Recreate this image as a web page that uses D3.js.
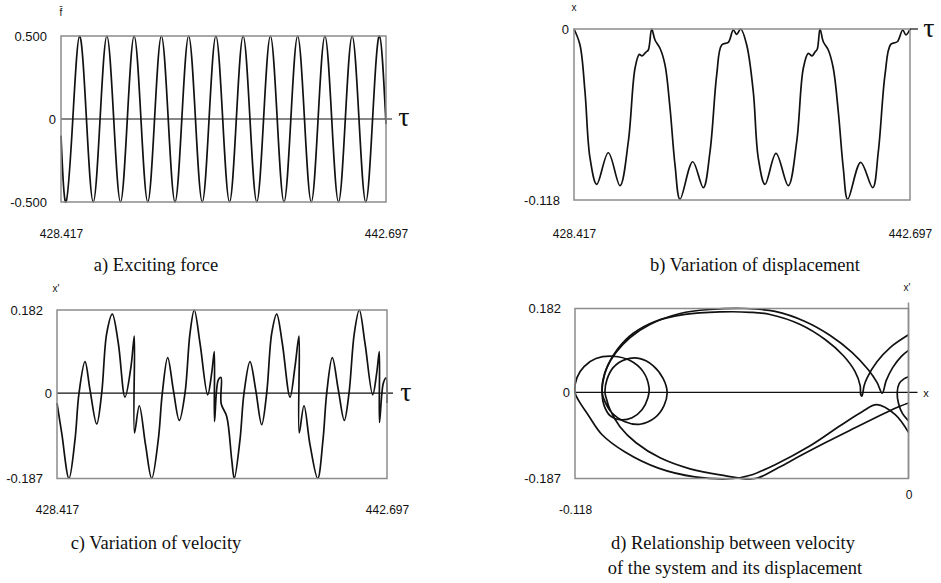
<!DOCTYPE html>
<html>
<head>
<meta charset="utf-8">
<style>
    body { margin: 0; background: #fff; }
    svg { display: block; }
    .frame { fill: none; stroke: #8c8c8c; stroke-width: 1.5; }
    .zero { stroke: #111; stroke-width: 1.2; }
    .curve { fill: none; stroke: #111; stroke-width: 1.7; stroke-linejoin: round; }
    .domain { display: none; }
    .tick text { font-family: 'Liberation Sans', Arial, sans-serif; font-size: 13px; fill: #111; }
    .xlab .tick text { font-size: 12px; }
    .caption { font-family: 'Liberation Serif', 'Times New Roman', Times, 'DejaVu Serif', serif; font-size: 18.5px; fill: #111; text-anchor: middle; }
    .tau { font-family: 'Liberation Serif', 'Times New Roman', Times, 'DejaVu Serif', serif; font-size: 28px; fill: #111; text-anchor: middle; }
    .var { font-family: 'Liberation Sans', Arial, sans-serif; font-size: 10px; fill: #111; text-anchor: middle; }
</style>
</head>
<body>
<svg width="941" height="583"></svg>

<script src="https://d3js.org/d3.v7.min.js"></script>
<script>
    // ---- data ----
    let timeTicks = [428.417, 442.697];
    let timeTickLabels = ["428.417", "442.697"];

    let forceTicks = [-0.5, 0, 0.5];
    let forceTickLabels = ["-0.500", "0", "0.500"];
    let dispTicks = [-0.118, 0];
    let dispTickLabels = ["-0.118", "0"];
    let velTicks = [-0.187, 0, 0.182];
    let velTickLabels = ["-0.187", "0", "0.182"];
    let phaseXTicks = [-0.118, 0];
    let phaseXTickLabels = ["-0.118", "0"];

    // a) exciting force  [tau, f]
    let force = [
        [428.417, -0.10],
        [428.637, -0.5], [428.936, 0], [429.236, 0.5], [429.535, 0],
        [429.834, -0.5], [430.134, 0], [430.433, 0.5], [430.733, 0],
        [431.032, -0.5], [431.331, 0], [431.631, 0.5], [431.930, 0],
        [432.229, -0.5], [432.528, 0], [432.828, 0.5], [433.128, 0],
        [433.427, -0.5], [433.726, 0], [434.026, 0.5], [434.325, 0],
        [434.624, -0.5], [434.923, 0], [435.223, 0.5], [435.522, 0],
        [435.822, -0.5], [436.121, 0], [436.420, 0.5], [436.720, 0],
        [437.019, -0.5], [437.318, 0], [437.618, 0.5], [437.917, 0],
        [438.216, -0.5], [438.516, 0], [438.815, 0.5], [439.115, 0],
        [439.414, -0.5], [439.713, 0], [440.013, 0.5], [440.312, 0],
        [440.611, -0.5], [440.910, 0], [441.210, 0.5], [441.510, 0],
        [441.809, -0.5], [442.108, 0], [442.408, 0.5], [442.697, -0.03]
    ];

    // b) displacement  [tau, x]
    let displacement = [
        [428.417, 0], [428.672, -0.0110], [428.885, -0.0435], [429.097, -0.0890],
        [429.382, -0.1072], [429.875, -0.0854], [430.372, -0.1081], [430.725, -0.0778],
        [431.010, -0.0271], [431.192, -0.0175], [431.307, -0.0186], [431.477, -0.0159],
        [431.575, -0.0145], [431.719, 0], [431.860, -0.0076], [432.072, -0.0133],
        [432.285, -0.0248], [432.497, -0.0545], [432.710, -0.0938], [432.922, -0.1175],
        [433.462, -0.0916], [433.912, -0.1095], [434.197, -0.0847], [434.482, -0.0317],
        [434.694, -0.0110], [434.975, -0.0092], [435.187, -0.0007], [435.332, -0.0037],
        [435.502, 0], [435.757, -0.0110], [436.037, -0.0433], [436.250, -0.0892],
        [436.535, -0.1072], [437.002, -0.0858], [437.525, -0.1081], [437.882, -0.0778],
        [438.162, -0.0271], [438.375, -0.0168], [438.532, -0.0186], [438.660, -0.0159],
        [438.757, -0.0138], [438.872, 0], [439.012, -0.0088], [439.225, -0.0145],
        [439.437, -0.0271], [439.650, -0.0571], [439.862, -0.0961], [440.049, -0.1175],
        [440.601, -0.0920], [441.112, -0.1095], [441.350, -0.0847], [441.634, -0.0317],
        [441.876, -0.0106], [442.157, -0.0088], [442.387, -0.0007], [442.527, -0.0041],
        [442.697, 0]
    ];

    // c) velocity  [tau, x']
    let velocity = [
        [428.417, -0.0218], [428.620, -0.0873], [428.936, -0.187], [429.196, -0.1020],
        [429.369, 0], [429.629, 0.0690], [429.845, 0.0072], [430.135, -0.0677],
        [430.351, 0], [430.568, 0.1310], [430.810, 0.1731], [431.070, 0.1092],
        [431.360, -0.0087], [431.619, 0.0581], [431.762, 0.1251], [431.771, -0.0873],
        [431.978, -0.0277], [432.247, -0.1129], [432.515, -0.187], [432.800, -0.1020],
        [432.974, 0], [433.207, 0.0777], [433.450, 0.0072], [433.709, -0.0598],
        [433.956, 0], [434.172, 0.1310], [434.358, 0.182], [434.605, 0.1092],
        [434.938, -0.0037], [435.111, 0.0437], [435.224, 0.0908], [435.233, -0.0620],
        [435.397, 0.0290], [435.514, 0.0341], [435.522, -0.0234], [435.761, -0.0511],
        [435.977, -0.1456], [436.089, -0.187], [436.336, -0.1020], [436.509, 0],
        [436.769, 0.0690], [437.015, 0.0072], [437.275, -0.0692], [437.491, 0],
        [437.708, 0.1310], [437.924, 0.1731], [438.166, 0.1092], [438.500, -0.0087],
        [438.716, 0.0581], [438.890, 0.1251], [438.898, -0.0873], [439.105, -0.0277],
        [439.365, -0.1129], [439.698, -0.187], [439.928, -0.1020], [440.088, 0],
        [440.330, 0.0777], [440.590, 0.0072], [440.849, -0.0598], [441.053, 0],
        [441.282, 0.1310], [441.499, 0.182], [441.745, 0.1092], [442.078, -0.0037],
        [442.251, 0.0437], [442.364, 0.0908], [442.372, -0.0642], [442.537, 0.0218],
        [442.654, 0.0328], [442.697, -0.0218]
    ];

    // d) phase portrait, split at the impacts on x = 0  [x, x']
    let phaseAfterMainImpact = [
        [0, -0.087], [-0.0047, -0.0485], [-0.0112, -0.0268], [-0.0164, -0.042], [-0.0242, -0.0725],
        [-0.0348, -0.116], [-0.0472, -0.157], [-0.0560, -0.180], [-0.0620, -0.187],
        [-0.0756, -0.1834], [-0.0885, -0.1645], [-0.1003, -0.1295], [-0.1084, -0.0921],
        [-0.1134, -0.0485], [-0.1168, -0.0170], [-0.118, 0],
        [-0.1173, 0.0320], [-0.1148, 0.0559], [-0.1106, 0.0733], [-0.1045, 0.0783],
        [-0.0985, 0.0690], [-0.0939, 0.0450], [-0.0918, 0.0102], [-0.0922, -0.0115],
        [-0.0943, -0.0376], [-0.0978, -0.0550], [-0.1021, -0.0594], [-0.1056, -0.0507],
        [-0.1077, -0.0289], [-0.1084, -0.0050],
        [-0.1081, 0.0233], [-0.1067, 0.0537], [-0.1035, 0.0864], [-0.0985, 0.1190],
        [-0.0915, 0.1473], [-0.0808, 0.1712], [-0.0702, 0.1799], [-0.0578, 0.182],
        [-0.0472, 0.1756], [-0.0366, 0.1538], [-0.0277, 0.1234], [-0.0199, 0.0864],
        [-0.0143, 0.0494], [-0.0111, 0.0211], [-0.0093, -0.002],
        [-0.0079, 0.0255], [-0.0056, 0.0537], [-0.0026, 0.0777], [0, 0.091]
    ];
    let phaseAfterSecondImpact = [
        [0, -0.062], [-0.0021, -0.0463], [-0.0035, -0.0246], [-0.0040, -0.0007],
        [-0.0033, 0.0189], [-0.0015, 0.0298], [0, 0.034]
    ];
    let phaseAfterThirdImpact = [
        [0, -0.023], [-0.0043, -0.0333], [-0.0103, -0.0507], [-0.0189, -0.0768],
        [-0.0295, -0.1094], [-0.0383, -0.1377], [-0.0461, -0.1638], [-0.0543, -0.187],
        [-0.0667, -0.1791], [-0.0773, -0.1660], [-0.0879, -0.1421], [-0.0964, -0.1094],
        [-0.1021, -0.0746], [-0.1056, -0.0376], [-0.1070, -0.0115], [-0.1074, 0],
        [-0.1067, 0.0276], [-0.1045, 0.0537], [-0.1003, 0.0711], [-0.0950, 0.0733],
        [-0.0904, 0.0581], [-0.0868, 0.0298], [-0.0854, 0], [-0.0865, -0.0289],
        [-0.0897, -0.0550], [-0.0950, -0.0692], [-0.1003, -0.0638], [-0.1053, -0.0420],
        [-0.1077, -0.0159], [-0.1084, 0],
        [-0.1081, 0.0276], [-0.1063, 0.0603], [-0.1028, 0.0951], [-0.0975, 0.1277],
        [-0.0897, 0.1538], [-0.0791, 0.1691], [-0.0667, 0.1745], [-0.0560, 0.1738],
        [-0.0490, 0.1690], [-0.0383, 0.1473], [-0.0295, 0.1147], [-0.0231, 0.0799],
        [-0.0189, 0.0450], [-0.0171, 0.0146], [-0.0169, -0.005], [-0.0165, -0.0083],
        [-0.0162, -0.0028], [-0.0157, 0.0146], [-0.0146, 0.0320], [-0.0111, 0.0668],
        [-0.0065, 0.0973], [0, 0.125]
    ];

    // ---- layout ----
    let svg = d3.select("svg");

    let boxA = { left: 61, right: 386, top: 36, bottom: 202 };
    let boxB = { left: 574, right: 910, top: 29, bottom: 200 };
    let boxC = { left: 57, right: 387, top: 310, bottom: 478.5 };
    let boxD = { left: 575, right: 908.5, top: 308.5, bottom: 478.5 };

    function makeScales(box, xDomain, yDomain) {
        return {
            box: box,
            x: d3.scaleLinear().domain(xDomain).range([box.left, box.right]),
            y: d3.scaleLinear().domain(yDomain).range([box.bottom, box.top])
        };
    }

    let pa = makeScales(boxA, [timeTicks[0], timeTicks[1]], [-0.5, 0.5]);
    let pb = makeScales(boxB, [timeTicks[0], timeTicks[1]], [-0.118, 0]);
    let pc = makeScales(boxC, [timeTicks[0], timeTicks[1]], [-0.187, 0.182]);
    let pd = makeScales(boxD, [-0.118, 0], [-0.187, 0.182]);

    function frame(p) {
        svg.append("rect").attr("class", "frame")
            .attr("x", p.box.left).attr("y", p.box.top)
            .attr("width", p.box.right - p.box.left)
            .attr("height", p.box.bottom - p.box.top);
    }

    function yAxis(p, ticks, labels) {
        let g = svg.append("g")
            .attr("transform", `translate(${p.box.left},0)`)
            .call(d3.axisLeft(p.y).tickValues(ticks).tickSize(0).tickPadding(14)
                .tickFormat((d, i) => labels[i]));
        g.selectAll(".tick text").filter(d => d === 0).attr("x", -5);
        return g;
    }

    function xAxis(p, ticks, labels, pad) {
        return svg.append("g").attr("class", "xlab")
            .attr("transform", `translate(0,${p.box.bottom})`)
            .call(d3.axisBottom(p.x).tickValues(ticks).tickSize(0).tickPadding(pad)
                .tickFormat((d, i) => labels[i]));
    }

    function curve(p, data, kind) {
        let line = d3.line()
            .x(d => p.x(d[0]))
            .y(d => p.y(d[1]))
            .curve(kind);
        svg.append("path").datum(data).attr("class", "curve").attr("d", line);
    }

    function zeroLine(p, x1, x2) {
        svg.append("line").attr("class", "zero")
            .attr("x1", x1).attr("x2", x2)
            .attr("y1", p.y(0)).attr("y2", p.y(0));
    }

    // a) exciting force
    zeroLine(pa, boxA.left, boxA.right + 6);
    curve(pa, force, d3.curveNatural);
    frame(pa);
    yAxis(pa, forceTicks, forceTickLabels);
    xAxis(pa, timeTicks, timeTickLabels, 27);
    svg.append("text").attr("class", "tau").attr("x", 404).attr("y", 126).text("τ");
    svg.append("text").attr("class", "var").attr("x", boxA.left).attr("y", 16).text("f\u0304");
    svg.append("text").attr("class", "caption").attr("x", 156).attr("y", 271).text("a) Exciting force");

    // b) displacement
    curve(pb, displacement, d3.curveCatmullRom.alpha(0.5));
    frame(pb);
    zeroLine(pb, boxB.right, boxB.right + 8);
    yAxis(pb, dispTicks, dispTickLabels);
    xAxis(pb, timeTicks, timeTickLabels, 29);
    svg.append("text").attr("class", "tau").attr("x", 929).attr("y", 37).text("τ");
    svg.append("text").attr("class", "var").attr("x", boxB.left).attr("y", 11).text("x");
    svg.append("text").attr("class", "caption").attr("x", 755).attr("y", 271).text("b) Variation of displacement");

    // c) velocity
    zeroLine(pc, boxC.left, boxC.right + 6);
    curve(pc, velocity, d3.curveCatmullRom.alpha(0.5));
    frame(pc);
    yAxis(pc, velTicks, velTickLabels);
    xAxis(pc, timeTicks, timeTickLabels, 27);
    svg.append("text").attr("class", "tau").attr("x", 406).attr("y", 401).text("τ");
    svg.append("text").attr("class", "var").attr("x", 56).attr("y", 292).text("x'");
    svg.append("text").attr("class", "caption").attr("x", 156).attr("y", 549).text("c) Variation of velocity");

    // d) velocity against displacement
    zeroLine(pd, boxD.left, boxD.right + 9);
    [phaseAfterMainImpact, phaseAfterSecondImpact, phaseAfterThirdImpact].forEach(function (seg) {
        curve(pd, seg, d3.curveCatmullRom.alpha(0.5));
    });
    frame(pd);
    svg.append("line").attr("class", "frame")
        .attr("x1", pd.x(0)).attr("x2", pd.x(0))
        .attr("y1", boxD.bottom).attr("y2", boxD.top - 6);
    yAxis(pd, velTicks, velTickLabels);
    let dx = xAxis(pd, phaseXTicks, phaseXTickLabels, 27);
    dx.selectAll(".tick text").filter(d => d === 0).attr("y", 12);
    svg.append("text").attr("class", "var").attr("x", 907).attr("y", 291).text("x'");
    svg.append("text").attr("class", "var").attr("x", 926).attr("y", 397).style("font-size", "11px").text("x");
    svg.append("text").attr("class", "caption").attr("x", 733).attr("y", 549).text("d) Relationship between velocity");
    svg.append("text").attr("class", "caption").attr("x", 735).attr("y", 574).text("of the system and its displacement");
</script>
</body>
</html>
